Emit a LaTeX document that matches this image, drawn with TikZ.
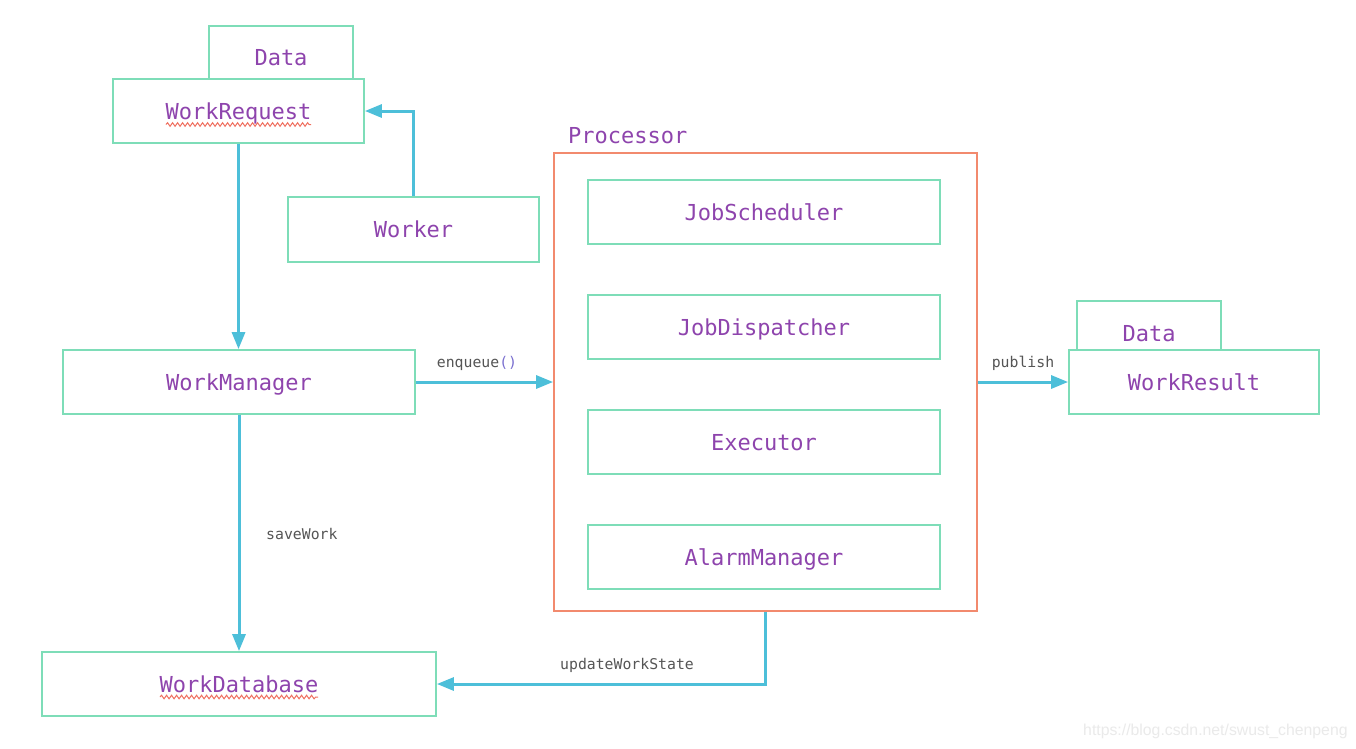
\documentclass[tikz,border=0pt]{standalone}
\usepackage{fontspec}
\setmainfont{DejaVu Sans}
\newfontfamily\monof{DejaVu Sans Mono}
\newfontfamily\wmfont{Liberation Sans}
\usetikzlibrary{arrows.meta,decorations.pathmorphing}
\definecolor{boxc}{HTML}{7EDDB8}
\definecolor{procc}{HTML}{F28A6E}
\definecolor{arrc}{HTML}{4DBFD9}
\definecolor{txtc}{HTML}{8E44AD}
\definecolor{lblc}{HTML}{555555}
\definecolor{parc}{HTML}{7A6FD0}
\definecolor{sqc}{HTML}{F07060}
\definecolor{wmc}{HTML}{EAEAEA}
\tikzset{
  boxn/.style={draw=boxc, line width=1.8pt, fill=white, inner sep=0pt, text=txtc,
    font=\monof\fontsize{22}{22}\selectfont, text height=16pt, text depth=0pt},
  arr/.style={draw=arrc, line width=3pt, -{Triangle[length=17pt,width=13pt]}},
  lbl/.style={text=lblc, font=\monof\fontsize{14.8}{15}\selectfont, inner sep=0pt},
  squig/.style={draw=sqc, line width=1pt, decorate, decoration={snake, amplitude=1.8pt, segment length=5pt}}
}
\begin{document}
\begin{tikzpicture}[x=1pt,y=-1pt]
\useasboundingbox (0,0) rectangle (1356,748);
\fill[white] (0,0) rectangle (1356,748);

% Processor
\node[draw=procc, line width=1.8pt, minimum width=423pt, minimum height=458pt, inner sep=0pt] (proc) at (765.5,382) {};
\node[anchor=base west, text=txtc, font=\monof\fontsize{22}{22}\selectfont, inner sep=0pt] (proclbl) at (568,143) {Processor};
\node[boxn, minimum width=352pt, minimum height=64pt] (js) at (764,212) {JobScheduler};
\node[boxn, minimum width=352pt, minimum height=64pt] (jd) at (764,327) {JobDispatcher};
\node[boxn, minimum width=352pt, minimum height=64pt] (ex) at (764,442) {Executor};
\node[boxn, minimum width=352pt, minimum height=64pt] (am) at (764,557) {AlarmManager};

% Left side
\node[boxn, minimum width=144pt, minimum height=63pt] (data1) at (281,57.5) {Data};
\node[boxn, minimum width=251pt, minimum height=64pt] (wreq) at (238.5,111) {WorkRequest};
\node[boxn, minimum width=251pt, minimum height=65pt] (worker) at (413.5,229.5) {Worker};
\node[boxn, minimum width=352pt, minimum height=64pt] (wman) at (239,382) {WorkManager};
\node[boxn, minimum width=394pt, minimum height=64pt] (wdb) at (239,684) {WorkDatabase};

% Right side
\node[boxn, minimum width=144pt, minimum height=64pt] (data2) at (1149,333) {Data};
\node[boxn, minimum width=250pt, minimum height=64pt] (wres) at (1194,382) {WorkResult};

% spell-check squiggles
\draw[squig] (166,124.5) -- (311,124.5);
\draw[squig] (160,697) -- (318,697);

% connectors
\draw[arr] (worker.north) |- (wreq.east);
\draw[arr] (wreq.south) -- (wreq.south |- wman.north);
\draw[arr] (wman.south) -- (wman.south |- wdb.north);
\draw[arr] (wman.east) -- (proc.west);
\draw[arr] (proc.east) -- (wres.west);
\draw[arr] (proc.south) |- (wdb.east);

% labels
\node[lbl, anchor=west] (lsave) at (266,534) {saveWork};
\node[lbl] (lenq) at (477,363) {enqueue\textcolor{parc}{()}};
\node[lbl] (lpub) at (1023,363) {publish};
\node[lbl] (lupd) at (627,665) {updateWorkState};

% watermark
\node[anchor=west, inner sep=0pt, text=wmc, font=\wmfont\fontsize{15.8}{16}\selectfont] (wm) at (1083,731) {https://blog.csdn.net/swust\_chenpeng};
\end{tikzpicture}
\end{document}
